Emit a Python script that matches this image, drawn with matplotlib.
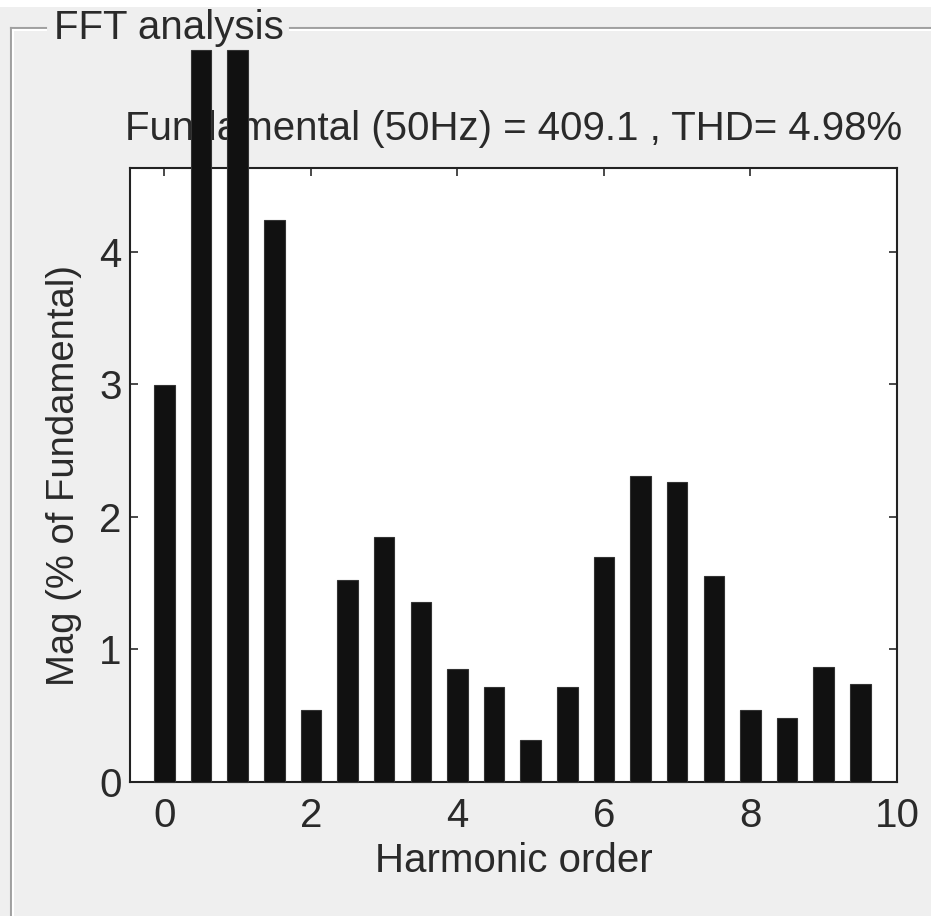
import matplotlib
matplotlib.use("Agg")
import matplotlib.pyplot as plt
import numpy as np
from matplotlib.patches import Rectangle
from matplotlib.lines import Line2D

# Harmonic orders and magnitudes (% of fundamental)
harmonics = [0, 0.5, 1, 1.5, 2, 2.5, 3, 3.5, 4, 4.5,
             5, 5.5, 6, 6.5, 7, 7.5, 8, 8.5, 9, 9.5]
mag = [2.99, 5.52, 5.52, 4.24, 0.54, 1.52, 1.85, 1.36, 0.85, 0.72,
       0.32, 0.72, 1.70, 2.31, 2.26, 1.55, 0.54, 0.48, 0.87, 0.74]
xticks = [0, 2, 4, 6, 8, 10]
yticks = [0, 1, 2, 3, 4]

plt.rcParams["font.family"] = ["Liberation Sans", "DejaVu Sans"]
bg = "#efefef"
fs = 29
tc = "#2a2a2a"

W, H = 931, 916
fig = plt.figure(figsize=(W / 100, H / 100), dpi=100, facecolor=bg)

# white strip at top + panel frame
fig.add_artist(Rectangle((0, 1 - 7 / H), 1, 7 / H, transform=fig.transFigure,
                         facecolor="white", edgecolor="none"))

def fx(px):
    return px / W

def fy(py):
    return 1 - py / H

for dx, col in ((0, "#a0a0a0"), (1.5, "white")):
    fig.add_artist(Line2D([fx(11 + dx), fx(11 + dx)], [fy(916), fy(28 + dx)],
                          color=col, lw=1.5, transform=fig.transFigure))
    fig.add_artist(Line2D([fx(11 + dx), fx(46)], [fy(28 + dx), fy(28 + dx)],
                          color=col, lw=1.5, transform=fig.transFigure))
    fig.add_artist(Line2D([fx(290), fx(931)], [fy(28 + dx), fy(28 + dx)],
                          color=col, lw=1.5, transform=fig.transFigure))
fig.text(fx(54), fy(28), "FFT analysis", fontsize=fs, color=tc,
         va="center", ha="left")

ax = fig.add_axes([130 / W, 1 - 782 / H, (897 - 130) / W, (782 - 168) / H])
ax.set_facecolor("white")
ax.bar(harmonics, mag, width=0.28, color="#111111", edgecolor="#333333",
       linewidth=0.8, clip_on=False, zorder=5)
ax.set_xlim(-0.47, 10)
ax.set_ylim(0, 4.63)
ax.set_xticks(xticks)
ax.set_yticks(yticks)
ax.tick_params(direction="in", length=6, width=1.2, labelsize=fs,
               top=True, right=True, colors=tc)
ax.tick_params(axis="x", pad=11)
ax.tick_params(axis="y", pad=6)
for sp in ax.spines.values():
    sp.set_linewidth(1.5)
    sp.set_color("#222222")
ax.set_title("Fundamental (50Hz) = 409.1 , THD= 4.98%", fontsize=fs,
             color=tc, pad=20)
ax.set_xlabel("Harmonic order", fontsize=fs, color=tc, labelpad=5)
ax.set_ylabel("Mag (% of Fundamental)", fontsize=27.5, color=tc,
              labelpad=12)

fig.savefig("out.png", dpi=100, facecolor=bg)
